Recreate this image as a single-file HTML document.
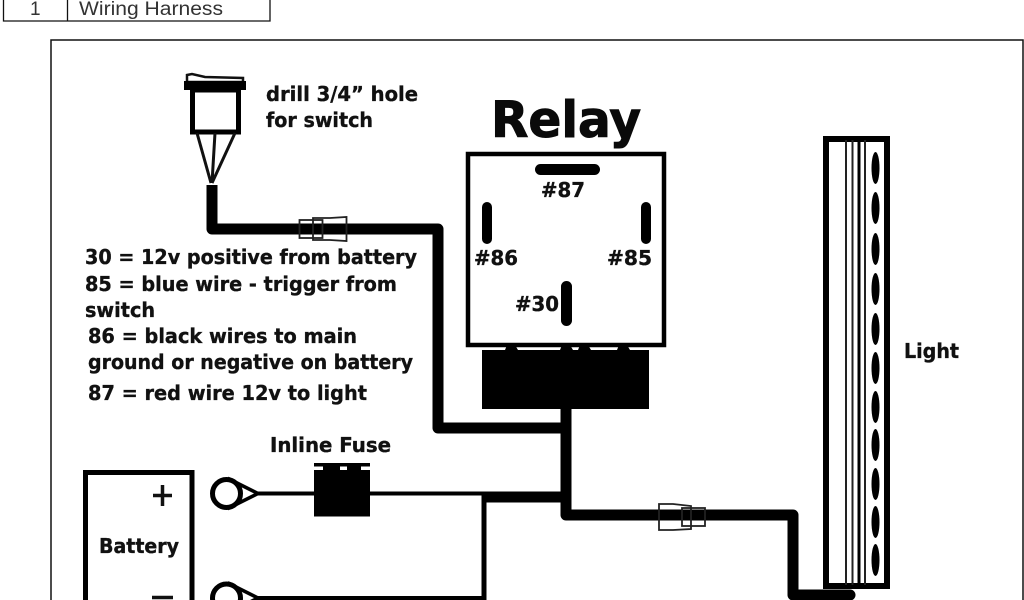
<!DOCTYPE html>
<html><head><meta charset="utf-8"><style>
html,body{margin:0;padding:0;background:#fff;width:1024px;height:600px;overflow:hidden}
svg{display:block}
.t{font-family:"DejaVu Sans",sans-serif;font-weight:bold;font-size:20px;fill:#111;stroke:#111;stroke-width:.35px}
.a{font-family:"Liberation Sans",sans-serif;font-size:19px;fill:#333}
</style></head><body>
<svg width="1024" height="600" viewBox="0 0 1024 600" xmlns="http://www.w3.org/2000/svg">
<rect width="1024" height="600" fill="#fff"/>
<!-- table -->
<path d="M3.500 0V21H270V0M67.500 0V21" fill="none" stroke="#111" stroke-width="1.300"/>
<text class="a" x="30" y="15">1</text>
<text class="a" x="79" y="15" textLength="144" lengthAdjust="spacingAndGlyphs">Wiring Harness</text>
<!-- frame -->
<path d="M51 600V40H1023V600" fill="none" stroke="#111" stroke-width="1.500"/>
<!-- switch -->
<path d="M187 75L192 74L205 77L243 78V82H187Z" fill="#fff" stroke="#111" stroke-width="2.500"/>
<rect x="184" y="81" width="62" height="9" fill="#000"/>
<rect x="192.500" y="90" width="46" height="42" fill="#fff" stroke="#000" stroke-width="5"/>
<path d="M197 133L211 183M215 133L212 183M235 133L212 183" stroke="#111" stroke-width="3" fill="none"/>
<text class="t" x="266" y="101" textLength="152" lengthAdjust="spacingAndGlyphs">drill 3/4” hole</text>
<text class="t" x="266" y="127" textLength="107" lengthAdjust="spacingAndGlyphs">for switch</text>
<!-- wires -->
<path d="M212 185V229H438V428H566" fill="none" stroke="#000" stroke-width="11" stroke-linejoin="round"/>
<path d="M566 405V515H793V595H850" fill="none" stroke="#000" stroke-width="11" stroke-linejoin="round"/>
<path d="M482 497H566" fill="none" stroke="#000" stroke-width="11"/>
<!-- connector 1 -->
<g fill="none" stroke="#222" stroke-width="1.800">
<rect x="299.500" y="220" width="23" height="18"/>
<path d="M313 218H330L346.500 217V241L330 240H313Z"/>
</g>
<!-- connector 2 -->
<g fill="none" stroke="#222" stroke-width="1.800">
<path d="M659 504H673L691 506V529L673 530H659Z"/>
<rect x="682" y="508" width="23" height="18"/>
</g>
<!-- relay -->
<text x="491" y="137" font-family="DejaVu Sans,sans-serif" font-weight="bold" font-size="50" fill="#0a0a0a" stroke="#0a0a0a" stroke-width="1" textLength="150" lengthAdjust="spacingAndGlyphs">Relay</text>
<rect x="468" y="154" width="196" height="191" fill="#fff" stroke="#000" stroke-width="4.500"/>
<rect x="535" y="164" width="65" height="11" rx="5.500" fill="#000"/>
<rect x="482" y="202" width="10" height="42" rx="5" fill="#000"/>
<rect x="641" y="202" width="10" height="42" rx="5" fill="#000"/>
<rect x="561" y="281" width="11" height="45" rx="5.500" fill="#000"/>
<text class="t" x="541" y="197" textLength="44" lengthAdjust="spacingAndGlyphs">#87</text>
<text class="t" x="474" y="265" textLength="44" lengthAdjust="spacingAndGlyphs">#86</text>
<text class="t" x="607" y="265" textLength="45" lengthAdjust="spacingAndGlyphs">#85</text>
<text class="t" x="515" y="311" textLength="44" lengthAdjust="spacingAndGlyphs">#30</text>
<rect x="482" y="350" width="167" height="59" fill="#000"/>
<path d="M505 350L507 345H515L518 350ZM560 350L562 345H570L573 350ZM578 350L580 345H588L591 350ZM617 350L619 345H627L630 350Z" fill="#000"/>
<!-- legend -->
<text class="t" x="85" y="264" textLength="332" lengthAdjust="spacingAndGlyphs">30 = 12v positive from battery</text>
<text class="t" x="85" y="291" textLength="312" lengthAdjust="spacingAndGlyphs">85 = blue wire - trigger from</text>
<text class="t" x="85" y="317" textLength="70" lengthAdjust="spacingAndGlyphs">switch</text>
<text class="t" x="88" y="343" textLength="269" lengthAdjust="spacingAndGlyphs">86 = black wires to main</text>
<text class="t" x="88" y="369" textLength="325" lengthAdjust="spacingAndGlyphs">ground or negative on battery</text>
<text class="t" x="88" y="400" textLength="279" lengthAdjust="spacingAndGlyphs">87 = red wire 12v to light</text>
<!-- fuse -->
<text class="t" x="270" y="452" textLength="121" lengthAdjust="spacingAndGlyphs">Inline Fuse</text>
<path d="M256 493.500H314M370 493.500H484" stroke="#000" stroke-width="4" fill="none"/>
<path d="M484 493V600" stroke="#000" stroke-width="5" fill="none"/>
<path d="M256 598H484" stroke="#000" stroke-width="4" fill="none"/>
<rect x="314" y="463" width="56" height="53.500" fill="#000"/>
<g fill="#fff">
<rect x="314" y="466.500" width="9" height="3.500"/>
<rect x="340" y="466.500" width="7" height="3.500"/>
<rect x="361" y="466.500" width="9" height="3.500"/>
</g>
<!-- terminals -->
<g fill="#fff" stroke="#000">
<path d="M230 479.500L258 493.500L230 507.500Z" stroke-width="3.500"/>
<circle cx="226.500" cy="493.500" r="14" stroke-width="5"/>
<path d="M230 584L258 598L230 612Z" stroke-width="3.500"/>
<circle cx="226.500" cy="598" r="14" stroke-width="5"/>
</g>
<!-- battery -->
<path d="M85.500 600V472.500H192V600" fill="#fff" stroke="#000" stroke-width="5"/>
<path d="M153 495.500H172M162.500 485V506" stroke="#111" stroke-width="3.500" fill="none"/>
<path d="M152 597.500H173" stroke="#111" stroke-width="3.500" fill="none"/>
<text class="t" x="99" y="553" textLength="80" lengthAdjust="spacingAndGlyphs">Battery</text>
<!-- light -->
<rect x="826" y="139" width="61" height="447" fill="#fff" stroke="#000" stroke-width="6"/>
<path d="M846 140V585M852.500 140V585M865 140V585" stroke="#222" stroke-width="2" fill="none"/>
<path d="M859 140V585" stroke="#000" stroke-width="3" fill="none"/>
<g fill="#000">
<ellipse cx="875.500" cy="168" rx="4" ry="16"/>
<ellipse cx="875.500" cy="208" rx="4" ry="16"/>
<ellipse cx="875.500" cy="249" rx="4" ry="16"/>
<ellipse cx="875.500" cy="289" rx="4" ry="16"/>
<ellipse cx="875.500" cy="329" rx="4" ry="16"/>
<ellipse cx="875.500" cy="368" rx="4" ry="16"/>
<ellipse cx="875.500" cy="407" rx="4" ry="16"/>
<ellipse cx="875.500" cy="445" rx="4" ry="16"/>
<ellipse cx="875.500" cy="484" rx="4" ry="16"/>
<ellipse cx="875.500" cy="522" rx="4" ry="16"/>
<ellipse cx="875.500" cy="560" rx="4" ry="16"/>
</g>
<path d="M795 595H850" stroke="#000" stroke-width="11" stroke-linecap="round" fill="none"/>
<text class="t" x="904" y="358" textLength="55" lengthAdjust="spacingAndGlyphs">Light</text>
</svg>
</body></html>
